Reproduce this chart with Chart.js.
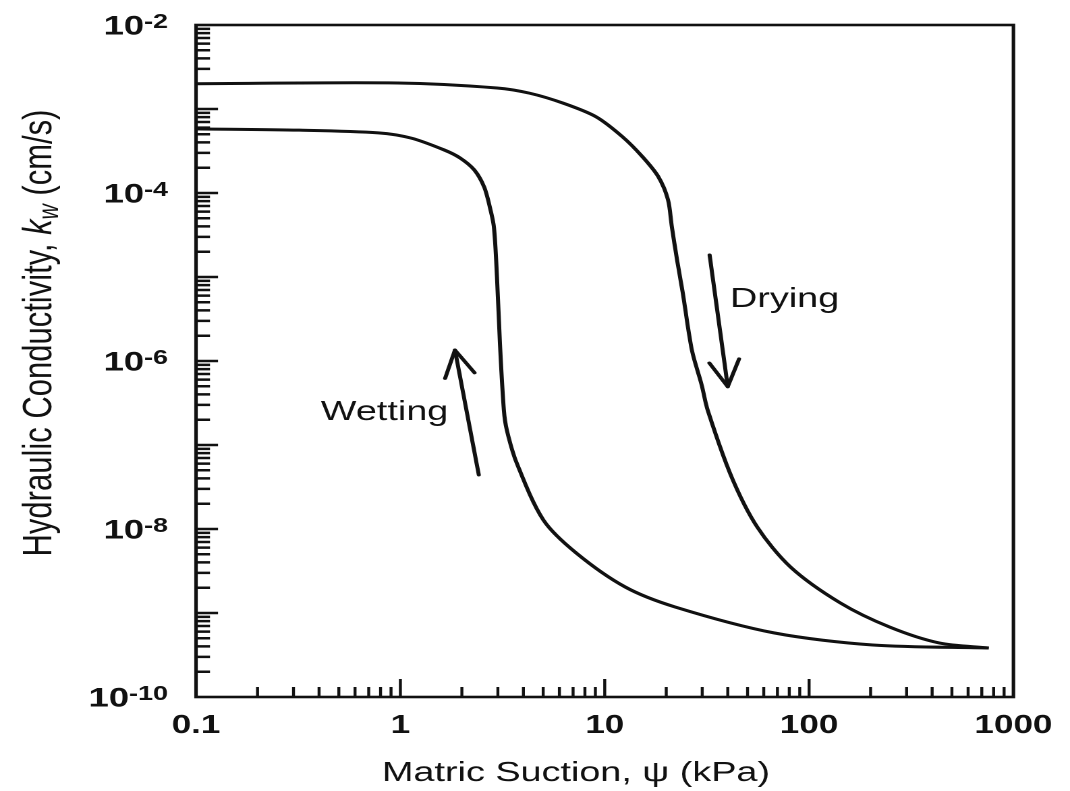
<!DOCTYPE html>
<html>
<head>
<meta charset="utf-8">
<script src="https://cdn.jsdelivr.net/npm/chart.js@4.4.1/dist/chart.umd.min.js"></script>
<style>
  html, body { margin: 0; padding: 0; background: #fff; overflow: hidden; }
  #wrap { position: absolute; left: 0; top: 0; width: 793px; height: 791px; transform: scaleX(1.3493); transform-origin: 0 0; }
</style>
</head>
<body>
<div id="wrap"><canvas id="c"></canvas></div>
<script>
// ---- data ----
const wettingSuction = [0.1, 0.32, 0.78, 1.13, 1.64, 1.96, 2.30, 2.57, 2.74, 2.87, 2.97, 3.07, 3.21, 3.32, 3.71, 5.01, 7.24, 12.6, 22.1, 67.3, 205, 757];
const wettingK       = [5.8e-4, 5.6e-4, 5.2e-4, 4.5e-4, 3.25e-4, 2.61e-4, 1.88e-4, 1.18e-4, 6.8e-5, 3.9e-5, 1.0e-5, 1.64e-6, 2.6e-7, 1.5e-7, 6.1e-8, 1.28e-8, 5.2e-9, 2.04e-9, 1.18e-9, 5.8e-10, 4.16e-10, 3.83e-10];
const dryingSuction  = [0.1, 0.97, 2.97, 4.30, 6.28, 9.05, 12.2, 15.3, 18.3, 20.4, 21.3, 22.6, 24.1, 26.7, 29.8, 31.9, 41.7, 55.7, 81.4, 142, 248, 433, 757];
const dryingK        = [2.0e-3, 2.04e-3, 1.78e-3, 1.54e-3, 1.17e-3, 8.1e-4, 4.68e-4, 2.70e-4, 1.56e-4, 8.3e-5, 3.97e-5, 1.59e-5, 6.45e-6, 1.35e-6, 5.2e-7, 2.6e-7, 4.2e-8, 1.06e-8, 3.5e-9, 1.32e-9, 6.8e-10, 4.4e-10, 3.83e-10];
const xTickValues = [0.1, 1, 10, 100, 1000];
const xTickLabels = ['0.1', '1', '10', '100', '1000'];
const yTickValues = [1e-10, 1e-8, 1e-6, 1e-4, 1e-2];
const yTickExps   = ['-10', '-8', '-6', '-4', '-2'];
const xTitle = 'Matric Suction, \u03C8 (kPa)';
const yTitleMain = 'Hydraulic Conductivity, ';
const yTitleK = 'k';
const yTitleSub = 'w';
const yTitleEnd = ' (cm/s)';
const wettingLabel = { text: 'Wetting', x: 0.837, y: 1.99e-7 };
const dryingLabel  = { text: 'Drying',  x: 75.9,  y: 4.42e-6 };
const wettingArrow = { from: [2.42, 4.4e-8], to: [1.85, 1.35e-6] };
const dryingArrow  = { from: [32.6, 1.83e-5], to: [40.0, 4.94e-7] };

const S = 1070 / 793;
const FONT = '"Liberation Sans", Arial, Helvetica, sans-serif';
const INK = '#111';

const decorations = {
  id: 'decorations',
  afterDraw(chart) {
    const ctx = chart.ctx;
    const { left, right, top, bottom } = chart.chartArea;
    const xs = chart.scales.x, ys = chart.scales.y;
    ctx.save();
    ctx.strokeStyle = INK; ctx.fillStyle = INK;
    // frame
    ctx.lineWidth = 2.6;
    ctx.strokeRect(left, top, right - left, bottom - top);
    // inward tick marks
    ctx.lineWidth = 2.2;
    ctx.beginPath();
    for (let d = -1; d <= 2; d++) {
      for (let m = 1; m <= 9; m++) {
        const v = m * Math.pow(10, d);
        if (m === 1 && d === -1) continue;
        const px = xs.getPixelForValue(v);
        const len = m === 1 ? 18 : 10;
        ctx.moveTo(px, bottom); ctx.lineTo(px, bottom - len);
      }
    }
    ctx.stroke();
    ctx.lineWidth = 2.5;
    ctx.beginPath();
    for (let d = -10; d <= -3; d++) {
      for (let m = 1; m <= 9; m++) {
        if (m === 1 && d === -10) continue;
        const v = m * Math.pow(10, d);
        const py = ys.getPixelForValue(v);
        const len = (m === 1 ? 22 : 14) / S;
        ctx.moveTo(left, py); ctx.lineTo(left + len, py);
      }
    }
    ctx.stroke();
    // y tick labels 10^n
    yTickValues.forEach((v, i) => {
      const py = ys.getPixelForValue(v);
      const xr = left - 28 / S;
      ctx.font = 'bold 20px ' + FONT;
      ctx.textAlign = 'right'; ctx.textBaseline = 'alphabetic';
      const ew = ctx.measureText(yTickExps[i]).width;
      ctx.fillText(yTickExps[i], xr, py + 3);
      ctx.font = 'bold 27px ' + FONT;
      ctx.fillText('10', xr - ew, py + 9.5);
    });
    // x title
    ctx.font = '28px ' + FONT;
    ctx.textAlign = 'center'; ctx.textBaseline = 'alphabetic';
    ctx.fillText(xTitle, 576 / S, 781);
    // y title (rotated)
    ctx.save();
    ctx.translate(51 / S, 333);
    ctx.rotate(-Math.PI / 2);
    ctx.textAlign = 'left';
    const fMain = '31px ' + FONT, fK = 'italic 31px ' + FONT, fSub = 'italic 21px ' + FONT;
    ctx.font = fMain; const w1 = ctx.measureText(yTitleMain).width; const w4 = ctx.measureText(yTitleEnd).width;
    ctx.font = fK; const w2 = ctx.measureText(yTitleK).width;
    ctx.font = fSub; const w3 = ctx.measureText(yTitleSub).width;
    let x0 = -(w1 + w2 + w3 + w4) / 2;
    ctx.font = fMain; ctx.fillText(yTitleMain, x0, 0); x0 += w1;
    ctx.font = fK; ctx.fillText(yTitleK, x0, 0); x0 += w2;
    ctx.font = fSub; ctx.fillText(yTitleSub, x0, 5); x0 += w3;
    ctx.font = fMain; ctx.fillText(yTitleEnd, x0, 0);
    ctx.restore();
    // annotations
    ctx.font = '28px ' + FONT;
    ctx.textAlign = 'center';
    [wettingLabel, dryingLabel].forEach(l => {
      ctx.fillText(l.text, xs.getPixelForValue(l.x), ys.getPixelForValue(l.y));
    });
    const arrow = (a) => {
      const x1 = xs.getPixelForValue(a.from[0]), y1 = ys.getPixelForValue(a.from[1]);
      const x2 = xs.getPixelForValue(a.to[0]), y2 = ys.getPixelForValue(a.to[1]);
      ctx.lineWidth = 3; ctx.lineCap = 'round'; ctx.lineJoin = 'round';
      ctx.beginPath(); ctx.moveTo(x1, y1); ctx.lineTo(x2, y2); ctx.stroke();
      const dx = (x2 - x1) * S, dy = y2 - y1, L = Math.hypot(dx, dy);
      const ux = dx / L, uy = dy / L, nx = -uy, ny = ux;
      const back = 26, half = 15;
      const wx1 = (x2 * S - ux * back + nx * half) / S, wy1 = y2 - uy * back + ny * half;
      const wx2 = (x2 * S - ux * back - nx * half) / S, wy2 = y2 - uy * back - ny * half;
      ctx.beginPath(); ctx.moveTo(wx1, wy1); ctx.lineTo(x2, y2); ctx.lineTo(wx2, wy2); ctx.stroke();
    };
    arrow(wettingArrow); arrow(dryingArrow);
    ctx.restore();
  }
};

const toPts = (xs, ys) => xs.map((x, i) => ({ x: x, y: ys[i] }));

new Chart(document.getElementById('c'), {
  type: 'line',
  data: {
    datasets: [
      { label: 'Wetting', data: toPts(wettingSuction, wettingK), borderColor: INK, borderWidth: 3, pointRadius: 0, fill: false, tension: 0.3 },
      { label: 'Drying', data: toPts(dryingSuction, dryingK), borderColor: INK, borderWidth: 3, pointRadius: 0, fill: false, tension: 0.3 }
    ]
  },
  options: {
    responsive: true,
    maintainAspectRatio: false,
    animation: false,
    devicePixelRatio: 2,
    layout: { padding: { top: 25, right: 793 - 1022 / S, bottom: 0, left: 0 } },
    plugins: { legend: { display: false }, tooltip: { enabled: false } },
    scales: {
      x: {
        type: 'logarithmic', position: 'bottom', min: 0.1, max: 1000,
        afterBuildTicks: (s) => { s.ticks = xTickValues.map(v => ({ value: v })); },
        afterFit: (s) => { s.height = 94; },
        grid: { display: false, drawTicks: false },
        border: { display: false },
        ticks: {
          autoSkip: false, maxRotation: 0, padding: 13, color: INK,
          font: { family: FONT, size: 26, weight: 'bold' },
          callback: (v) => { const i = xTickValues.indexOf(v); return i >= 0 ? xTickLabels[i] : ''; }
        }
      },
      y: {
        type: 'logarithmic', position: 'left', min: 1e-10, max: 1e-2,
        afterBuildTicks: (s) => { s.ticks = yTickValues.map(v => ({ value: v })); },
        afterFit: (s) => { s.width = 196 / S; },
        grid: { display: false, drawTicks: false },
        border: { display: false },
        ticks: { display: false }
      }
    }
  },
  plugins: [decorations]
});
</script>
</body>
</html>
